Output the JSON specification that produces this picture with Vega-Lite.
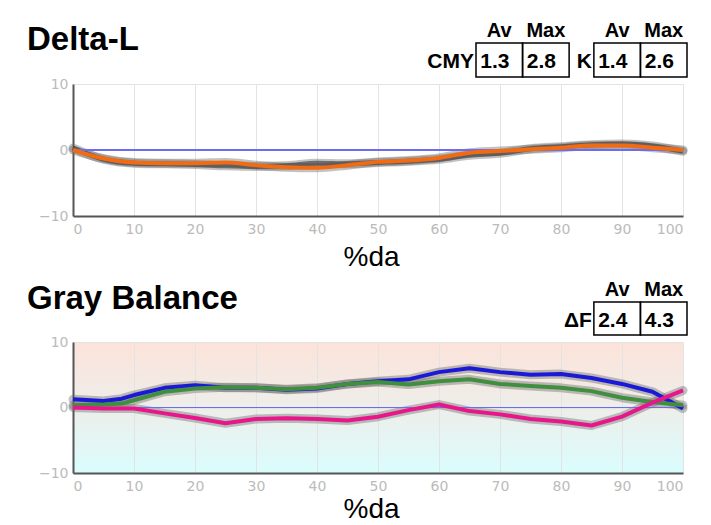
{
  "$schema": "https://vega.github.io/schema/vega-lite/v6.json",
  "padding": {"left": 27, "top": 21, "right": 0, "bottom": 0},
  "background": "white",
  "config": {
    "view": {"stroke": null},
    "font": "Liberation Sans",
    "axis": {"domainColor": "#555555", "domainWidth": 2, "ticks": false, "labelColor": "#bbbbbb", "labelFont": "DejaVu Sans", "labelFontSize": 14, "gridColor": "#e3e3e3", "gridWidth": 1, "titleFont": "Liberation Sans", "titleFontSize": 28, "titleFontWeight": "normal", "titleColor": "#000000"},
    "title": {"font": "Liberation Sans", "fontSize": 33, "fontWeight": "bold", "color": "#000000", "anchor": "start", "frame": "group"}
  },
  "datasets": {
    "statsL": [
      {"grp": "CMY", "stat": "Av", "val": "1.3"},
      {"grp": "CMY", "stat": "Max", "val": "2.8"},
      {"grp": "K", "stat": "Av", "val": "1.4"},
      {"grp": "K", "stat": "Max", "val": "2.6"}
    ],
    "statsG": [
      {"grp": "ΔF", "stat": "Av", "val": "2.4"},
      {"grp": "ΔF", "stat": "Max", "val": "4.3"}
    ],
    "dl": [
      {"s": "CMY", "x": 0, "y": 0.3}, {"s": "CMY", "x": 5, "y": -1.4}, {"s": "CMY", "x": 10, "y": -2.0}, {"s": "CMY", "x": 15, "y": -2.1}, {"s": "CMY", "x": 20, "y": -2.2}, {"s": "CMY", "x": 25, "y": -2.4}, {"s": "CMY", "x": 30, "y": -2.5}, {"s": "CMY", "x": 35, "y": -2.4}, {"s": "CMY", "x": 40, "y": -2.0}, {"s": "CMY", "x": 45, "y": -2.1}, {"s": "CMY", "x": 50, "y": -1.9}, {"s": "CMY", "x": 55, "y": -1.7}, {"s": "CMY", "x": 60, "y": -1.4}, {"s": "CMY", "x": 65, "y": -0.8}, {"s": "CMY", "x": 70, "y": -0.5}, {"s": "CMY", "x": 75, "y": 0.2}, {"s": "CMY", "x": 80, "y": 0.5}, {"s": "CMY", "x": 85, "y": 0.8}, {"s": "CMY", "x": 90, "y": 0.9}, {"s": "CMY", "x": 95, "y": 0.6}, {"s": "CMY", "x": 100, "y": -0.2},
      {"s": "K", "x": 0, "y": 0.0}, {"s": "K", "x": 5, "y": -1.3}, {"s": "K", "x": 10, "y": -1.9}, {"s": "K", "x": 15, "y": -2.0}, {"s": "K", "x": 20, "y": -2.0}, {"s": "K", "x": 25, "y": -1.9}, {"s": "K", "x": 30, "y": -2.3}, {"s": "K", "x": 35, "y": -2.6}, {"s": "K", "x": 40, "y": -2.7}, {"s": "K", "x": 45, "y": -2.3}, {"s": "K", "x": 50, "y": -1.8}, {"s": "K", "x": 55, "y": -1.6}, {"s": "K", "x": 60, "y": -1.2}, {"s": "K", "x": 65, "y": -0.4}, {"s": "K", "x": 70, "y": -0.15}, {"s": "K", "x": 75, "y": 0.1}, {"s": "K", "x": 80, "y": 0.35}, {"s": "K", "x": 85, "y": 0.7}, {"s": "K", "x": 90, "y": 0.7}, {"s": "K", "x": 95, "y": 0.35}, {"s": "K", "x": 100, "y": 0.0}
    ],
    "gb": [
      {"s": "B", "x": 0, "y": 1.25}, {"s": "B", "x": 5, "y": 1.0}, {"s": "B", "x": 8, "y": 1.35}, {"s": "B", "x": 10, "y": 1.9}, {"s": "B", "x": 15, "y": 3.0}, {"s": "B", "x": 20, "y": 3.4}, {"s": "B", "x": 25, "y": 3.0}, {"s": "B", "x": 30, "y": 3.0}, {"s": "B", "x": 35, "y": 2.7}, {"s": "B", "x": 40, "y": 2.9}, {"s": "B", "x": 45, "y": 3.6}, {"s": "B", "x": 50, "y": 4.0}, {"s": "B", "x": 55, "y": 4.3}, {"s": "B", "x": 60, "y": 5.4}, {"s": "B", "x": 65, "y": 6.0}, {"s": "B", "x": 70, "y": 5.4}, {"s": "B", "x": 75, "y": 5.0}, {"s": "B", "x": 80, "y": 5.1}, {"s": "B", "x": 85, "y": 4.5}, {"s": "B", "x": 90, "y": 3.6}, {"s": "B", "x": 95, "y": 2.4}, {"s": "B", "x": 100, "y": -0.15},
      {"s": "G", "x": 0, "y": 0.35}, {"s": "G", "x": 5, "y": 0.45}, {"s": "G", "x": 8, "y": 0.6}, {"s": "G", "x": 10, "y": 1.1}, {"s": "G", "x": 15, "y": 2.4}, {"s": "G", "x": 20, "y": 2.9}, {"s": "G", "x": 25, "y": 3.1}, {"s": "G", "x": 30, "y": 3.0}, {"s": "G", "x": 35, "y": 2.8}, {"s": "G", "x": 40, "y": 3.0}, {"s": "G", "x": 45, "y": 3.6}, {"s": "G", "x": 50, "y": 3.9}, {"s": "G", "x": 55, "y": 3.5}, {"s": "G", "x": 60, "y": 4.0}, {"s": "G", "x": 65, "y": 4.3}, {"s": "G", "x": 70, "y": 3.6}, {"s": "G", "x": 75, "y": 3.3}, {"s": "G", "x": 80, "y": 3.0}, {"s": "G", "x": 85, "y": 2.5}, {"s": "G", "x": 90, "y": 1.5}, {"s": "G", "x": 95, "y": 0.85}, {"s": "G", "x": 100, "y": 0.35},
      {"s": "M", "x": 0, "y": 0.0}, {"s": "M", "x": 5, "y": -0.15}, {"s": "M", "x": 10, "y": -0.15}, {"s": "M", "x": 15, "y": -0.9}, {"s": "M", "x": 20, "y": -1.6}, {"s": "M", "x": 25, "y": -2.4}, {"s": "M", "x": 30, "y": -1.75}, {"s": "M", "x": 35, "y": -1.65}, {"s": "M", "x": 40, "y": -1.75}, {"s": "M", "x": 45, "y": -2.0}, {"s": "M", "x": 50, "y": -1.4}, {"s": "M", "x": 55, "y": -0.4}, {"s": "M", "x": 60, "y": 0.45}, {"s": "M", "x": 65, "y": -0.55}, {"s": "M", "x": 70, "y": -1.05}, {"s": "M", "x": 75, "y": -1.75}, {"s": "M", "x": 80, "y": -2.15}, {"s": "M", "x": 85, "y": -2.75}, {"s": "M", "x": 90, "y": -1.4}, {"s": "M", "x": 95, "y": 0.75}, {"s": "M", "x": 100, "y": 2.6}
    ]
  },
  "spacing": 8,
  "vconcat": [
    {
      "bounds": "flush",
      "spacing": 7,
      "vconcat": [
        {
          "width": 610,
          "height": 34,
          "title": {"text": "Delta-L", "dx": -46, "dy": 62, "offset": 0, "baseline": "alphabetic"},
          "layer": [
            {
              "data": {"name": "statsL"},
              "mark": {"type": "rect", "fill": "transparent", "stroke": "#000000", "strokeWidth": 1.5},
              "encoding": {
                "x": {"field": "grp", "type": "nominal", "axis": null, "scale": {"domain": ["CMY", "K"], "range": [403, 614], "paddingInner": 0.21, "paddingOuter": 0}},
                "xOffset": {"field": "stat", "type": "nominal", "scale": {"domain": ["Av", "Max"], "paddingInner": 0, "paddingOuter": 0}}
              }
            },
            {
              "data": {"name": "statsL"},
              "mark": {"type": "text", "align": "left", "baseline": "alphabetic", "dx": -19, "dy": 8, "fontSize": 21, "fontWeight": "bold"},
              "encoding": {
                "x": {"field": "grp", "type": "nominal"},
                "xOffset": {"field": "stat", "type": "nominal"},
                "text": {"field": "val"}
              }
            },
            {
              "data": {"name": "statsL"},
              "mark": {"type": "text", "align": "center", "baseline": "alphabetic", "dy": -23, "fontSize": 20, "fontWeight": "bold"},
              "encoding": {
                "x": {"field": "grp", "type": "nominal"},
                "xOffset": {"field": "stat", "type": "nominal"},
                "text": {"field": "stat"}
              }
            },
            {
              "data": {"values": [{"grp": "CMY"}, {"grp": "K"}]},
              "mark": {"type": "text", "align": "right", "baseline": "alphabetic", "dx": -2, "dy": 8, "fontSize": 21, "fontWeight": "bold"},
              "encoding": {
                "x": {"field": "grp", "type": "nominal", "bandPosition": 0},
                "text": {"field": "grp"}
              }
            }
          ]
        },
        {
          "width": 610,
          "height": 132,
          "data": {"name": "dl"},
          "layer": [
            {
              "mark": {"type": "line", "interpolate": "monotone", "strokeWidth": 9, "color": "#666666", "opacity": 0.4, "strokeCap": "round"},
              "encoding": {
                "x": {"field": "x", "type": "quantitative", "scale": {"domain": [0, 100], "nice": false}, "axis": {"values": [0, 10, 20, 30, 40, 50, 60, 70, 80, 90, 100], "title": "%da", "titleX": 298, "titleY": 49, "titleAlign": "center", "titleBaseline": "alphabetic", "labelPadding": 6}},
                "y": {"field": "y", "type": "quantitative", "scale": {"domain": [-10, 10], "nice": false}, "axis": {"values": [-10, -5, 0, 5, 10], "title": null, "labelPadding": 5}},
                "detail": {"field": "s"}
              }
            },
            {
              "transform": [{"filter": "datum.s === 'CMY'"}],
              "mark": {"type": "line", "interpolate": "monotone", "strokeWidth": 5, "color": "#333333", "opacity": 0.6},
              "encoding": {
                "x": {"field": "x", "type": "quantitative"},
                "y": {"field": "y", "type": "quantitative"}
              }
            },
            {
              "mark": {"type": "rule", "color": "#6c6cf0", "strokeWidth": 1.5},
              "encoding": {"y": {"datum": 0}}
            },
            {
              "transform": [{"filter": "datum.s === 'K'"}],
              "mark": {"type": "line", "interpolate": "monotone", "strokeWidth": 4, "color": "#f26b12"},
              "encoding": {
                "x": {"field": "x", "type": "quantitative"},
                "y": {"field": "y", "type": "quantitative"}
              }
            }
          ]
        }
      ]
    },
    {
      "bounds": "flush",
      "spacing": 7,
      "vconcat": [
        {
          "width": 610,
          "height": 33,
          "title": {"text": "Gray Balance", "dx": -46, "dy": 62, "offset": 0, "baseline": "alphabetic"},
          "layer": [
            {
              "data": {"name": "statsG"},
              "mark": {"type": "rect", "fill": "transparent", "stroke": "#000000", "strokeWidth": 1.5},
              "encoding": {
                "x": {"field": "grp", "type": "nominal", "axis": null, "scale": {"domain": ["CMY", "ΔF"], "range": [403, 614], "paddingInner": 0.21, "paddingOuter": 0}},
                "xOffset": {"field": "stat", "type": "nominal", "scale": {"domain": ["Av", "Max"], "paddingInner": 0, "paddingOuter": 0}}
              }
            },
            {
              "data": {"name": "statsG"},
              "mark": {"type": "text", "align": "left", "baseline": "alphabetic", "dx": -19, "dy": 8, "fontSize": 21, "fontWeight": "bold"},
              "encoding": {
                "x": {"field": "grp", "type": "nominal"},
                "xOffset": {"field": "stat", "type": "nominal"},
                "text": {"field": "val"}
              }
            },
            {
              "data": {"name": "statsG"},
              "mark": {"type": "text", "align": "center", "baseline": "alphabetic", "dy": -23, "fontSize": 20, "fontWeight": "bold"},
              "encoding": {
                "x": {"field": "grp", "type": "nominal"},
                "xOffset": {"field": "stat", "type": "nominal"},
                "text": {"field": "stat"}
              }
            },
            {
              "data": {"values": [{"grp": "ΔF"}]},
              "mark": {"type": "text", "align": "right", "baseline": "alphabetic", "dx": -2, "dy": 8, "fontSize": 21, "fontWeight": "bold"},
              "encoding": {
                "x": {"field": "grp", "type": "nominal", "bandPosition": 0},
                "text": {"field": "grp"}
              }
            }
          ]
        },
        {
          "width": 610,
          "height": 131,
          "data": {"name": "gb"},
          "view": {"fill": {"gradient": "linear", "x1": 0, "y1": 0, "x2": 0, "y2": 1, "stops": [{"offset": 0, "color": "#fce3da"}, {"offset": 0.5, "color": "#eeeeea"}, {"offset": 1, "color": "#dafdfd"}]}},
          "layer": [
            {
              "mark": {"type": "line", "strokeWidth": 9, "color": "#666666", "opacity": 0.4, "strokeCap": "round", "strokeJoin": "round"},
              "encoding": {
                "x": {"field": "x", "type": "quantitative", "scale": {"domain": [0, 100], "nice": false}, "axis": {"values": [0, 10, 20, 30, 40, 50, 60, 70, 80, 90, 100], "title": "%da", "titleX": 298, "titleY": 44, "titleAlign": "center", "titleBaseline": "alphabetic", "labelPadding": 6}},
                "y": {"field": "y", "type": "quantitative", "scale": {"domain": [-10, 10], "nice": false}, "axis": {"values": [-10, -5, 0, 5, 10], "title": null, "labelPadding": 5}},
                "detail": {"field": "s"}
              }
            },
            {
              "mark": {"type": "rule", "color": "#6c6cf0", "strokeWidth": 1.2},
              "encoding": {"y": {"datum": 0}}
            },
            {
              "mark": {"type": "line", "strokeWidth": 4, "strokeJoin": "round"},
              "encoding": {
                "x": {"field": "x", "type": "quantitative"},
                "y": {"field": "y", "type": "quantitative"},
                "color": {"field": "s", "type": "nominal", "legend": null, "scale": {"domain": ["B", "G", "M"], "range": ["#1a1ad6", "#3f8f3f", "#e8168a"]}}
              }
            }
          ]
        }
      ]
    }
  ]
}
